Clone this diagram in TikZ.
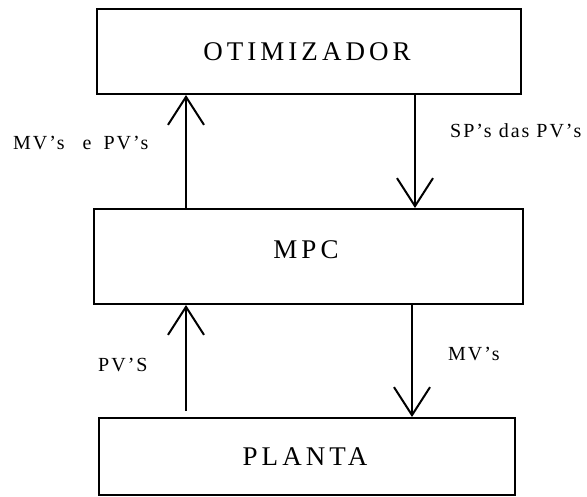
\documentclass[tikz,border=0pt]{standalone}
\usepackage{fontspec}
\setmainfont{Liberation Serif}
\newfontfamily\boxfont{Liberation Serif}[LetterSpace=15]
\newfontfamily\flowfont{Liberation Serif}[LetterSpace=10]
\usetikzlibrary{arrows.meta}
\begin{document}
\begin{tikzpicture}[x=1pt,y=-1pt,
  block/.style={draw,line width=2pt,inner sep=0pt,minimum width=#1},
  title/.style={font=\boxfont\fontsize{27}{30}\selectfont,inner sep=0pt},
  flow/.style={font=\flowfont\fontsize{20}{24}\selectfont,inner sep=0pt,anchor=west},
  link/.style={line width=2pt,-{Straight Barb[length=28pt,width=36pt,line width=2pt]}}]
\useasboundingbox (0,0) rectangle (587,496);
% the three blocks
\node[block=424pt,minimum height=85pt] (otim) at (309,51.5) {};
\node[block=429pt,minimum height=95pt] (mpc) at (308.5,256.5) {};
\node[block=416pt,minimum height=77pt] (planta) at (307,456.5) {};
\node[title] (totim) at (307,52) {OTIMIZADOR};
\node[title] (tmpc) at (306,250) {MPC};
\node[title] (tplanta) at (305,457) {PLANTA};
% columns of the signal arrows
\coordinate (up) at (186,0);
\coordinate (downa) at (415,0);
\coordinate (downb) at (412,0);
\draw[link] (mpc.north -| up) -- (otim.south -| up);
\draw[link] (otim.south -| downa) -- (mpc.north -| downa);
\draw[link] ([yshift=6pt]planta.north -| up) -- (mpc.south -| up);
\draw[link] (mpc.south -| downb) -- (planta.north -| downb);
% signal names
\node[flow] (l1) at (13,143) {MV’s\hspace{18pt}e\hspace{12pt}PV’s};
\node[flow] (l2) at (450,131) {SP’s das PV’s};
\node[flow] (l3) at (98,365) {PV’S};
\node[flow] (l4) at (448,354) {MV’s};
\end{tikzpicture}
\end{document}
